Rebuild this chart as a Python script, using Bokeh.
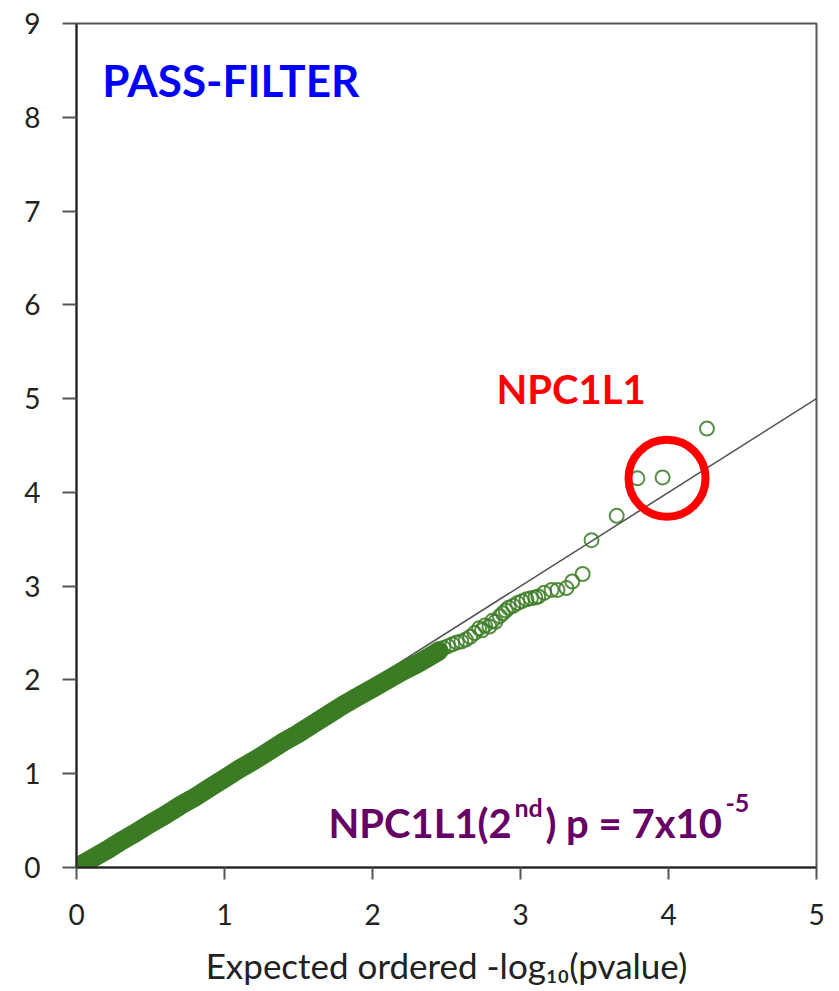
from bokeh.plotting import figure
from bokeh.models import Label, Range1d, FixedTicker
from bokeh.embed import file_html
from bokeh.resources import INLINE

# ---- data ----
# dense body of the QQ plot (expected vs observed -log10 p)
band_expected = [0.00, 0.10, 0.20, 0.30, 0.40, 0.50, 0.60, 0.70, 0.80, 0.90,
                 1.00, 1.10, 1.20, 1.30, 1.40, 1.50, 1.60, 1.70, 1.80, 1.90,
                 2.00, 2.10, 2.20, 2.30, 2.40, 2.45]
band_observed = [0.00, 0.09, 0.18, 0.28, 0.37, 0.47, 0.56, 0.66, 0.75, 0.85,
                 0.95, 1.05, 1.14, 1.24, 1.34, 1.43, 1.53, 1.63, 1.73, 1.82,
                 1.91, 2.00, 2.09, 2.17, 2.26, 2.31]
# sparse tail of the QQ plot
tail_expected = [2.48, 2.51, 2.54, 2.57, 2.60, 2.63, 2.66, 2.69, 2.72, 2.74,
                 2.76, 2.79, 2.81, 2.83, 2.86, 2.88, 2.90, 2.92, 2.95, 2.98,
                 3.01, 3.04, 3.07, 3.10, 3.12, 3.16, 3.21, 3.25, 3.31, 3.35,
                 3.42, 3.48, 3.65, 3.79, 3.96, 4.26]
tail_observed = [2.34, 2.36, 2.38, 2.40, 2.41, 2.43, 2.46, 2.50, 2.55, 2.53,
                 2.58, 2.57, 2.63, 2.62, 2.68, 2.71, 2.74, 2.77, 2.79, 2.82,
                 2.84, 2.86, 2.87, 2.88, 2.89, 2.93, 2.96, 2.96, 2.98, 3.05,
                 3.13, 3.49, 3.75, 4.15, 4.16, 4.68]
# expected = observed reference line
ref_x = [0, 5]
ref_y = [0, 5]
# highlighted NPC1L1 points (red ring centre)
highlight_x = [3.99]
highlight_y = [4.15]

x_ticks = [0, 1, 2, 3, 4, 5]
y_ticks = [0, 1, 2, 3, 4, 5, 6, 7, 8, 9]

GREEN = "#3b7b24"
FONT = "Lato"

p = figure(frame_width=740, frame_height=844,
           x_range=Range1d(0, 5), y_range=Range1d(0, 9),
           output_backend="svg", toolbar_location=None,
           min_border_left=76, min_border_right=12,
           min_border_top=23, min_border_bottom=112)
p.background_fill_color = "white"
p.border_fill_color = "white"
p.xgrid.visible = False
p.ygrid.visible = False
p.outline_line_color = "#555555"
p.outline_line_width = 2

for ax in (p.xaxis[0], p.yaxis[0]):
    ax.axis_line_color = "#222222"
    ax.axis_line_width = 2
    ax.major_tick_line_color = "#555555"
    ax.major_tick_line_width = 2
    ax.major_tick_in = 0
    ax.minor_tick_line_color = None
    ax.major_label_text_font = FONT
    ax.major_label_text_font_size = "28px"
    ax.major_label_text_color = "#222222"

p.xaxis.ticker = FixedTicker(ticks=x_ticks)
p.yaxis.ticker = FixedTicker(ticks=y_ticks)
p.xaxis.major_tick_out = 12
p.yaxis.major_tick_out = 14
p.xaxis.major_label_standoff = 24
p.yaxis.major_label_standoff = 22
p.xaxis.axis_label = "Expected ordered -log\u2081\u2080(pvalue)"
p.xaxis.axis_label_text_font = FONT
p.xaxis.axis_label_text_font_style = "normal"
p.xaxis.axis_label_text_font_size = "35px"
p.xaxis.axis_label_text_color = "#222222"
p.xaxis.axis_label_standoff = 16

# reference diagonal
p.line(ref_x, ref_y, line_color="#555555", line_width=1.6)

# dense body: overlapping open circles forming a solid band
p.line(band_expected, band_observed, line_color=GREEN, line_width=19,
       line_cap="round", line_join="round")
p.scatter(band_expected, band_observed, marker="circle", size=14,
          fill_color=None, line_color=GREEN, line_width=2)

# tail points
p.scatter(tail_expected, tail_observed, marker="circle", size=14,
          fill_color=None, line_color=GREEN, line_width=2, line_alpha=0.85)

# red highlight ring
p.scatter(highlight_x, highlight_y, marker="circle", size=77,
          fill_color=None, line_color="#ff0000", line_width=8)

# annotations
p.add_layout(Label(x=0.174, y=8.394, text="PASS-FILTER", text_font=FONT,
                   text_font_style="bold", text_font_size="44px",
                   text_color="#0000ff", text_baseline="alphabetic"))
p.add_layout(Label(x=2.838, y=5.104, text="NPC1L1", text_font=FONT,
                   text_font_style="bold", text_font_size="40px",
                   text_color="#ff0000", text_baseline="alphabetic"))

PURPLE = "#660066"
px0, py0 = 1.702, 0.471
parts = [("NPC1L1(2", 0, 0, "40px"),
         ("nd", 186, 16, "25px"),
         (") p = 7x10", 217, 0, "40px"),
         ("-5", 397, 20, "25px")]
for txt, dx, dy, fs in parts:
    p.add_layout(Label(x=px0, y=py0, x_offset=dx, y_offset=dy, text=txt,
                       text_font=FONT, text_font_style="bold",
                       text_font_size=fs, text_color=PURPLE,
                       text_baseline="alphabetic"))

open("out.html", "w").write(file_html(p, INLINE))
